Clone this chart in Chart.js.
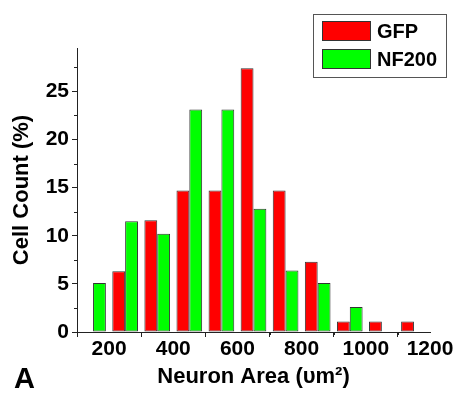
<!DOCTYPE html>
<html>
<head>
<meta charset="utf-8">
<script src="https://cdn.jsdelivr.net/npm/chart.js@4"></script>
<style>
  html, body { margin: 0; padding: 0; background: #fff; }
  #wrap { width: 458px; height: 396px; position: relative; }
</style>
</head>
<body>
<div id="wrap"><canvas id="hist"></canvas></div>
<script>
// -------- Data --------
const binCenters = [150, 250, 350, 450, 550, 650, 750, 850, 950, 1050, 1150];
const gfpPct   = [null, 6.3, 11.6, 14.7, 14.7, 27.4, 14.7, 7.3, 1.1, 1.1, 1.1];
const nf200Pct = [5.1, 11.5, 10.2, 23.1, 23.1, 12.8, 6.4, 5.1, 2.6, null, null];
const seriesNames = ["GFP", "NF200"];
const seriesColors = ["#ff0000", "#00ff00"];

const FONT = "'Liberation Sans', Arial, sans-serif";
const INK = "#222";

const toPoints = (vals) => binCenters.map((x, i) => ({ x: x, y: vals[i] }));

// short minor ticks between the labelled ones
const minorTicks = {
    id: "minorTicks",
    afterDraw(chart) {
        const { ctx, scales: { x, y } } = chart;
        ctx.save();
        ctx.strokeStyle = INK;
        ctx.lineWidth = 1;
        ctx.beginPath();
        for (let v = 2.5; v < y.max; v += 5) {
            const py = Math.round(y.getPixelForValue(v)) + 0.5;
            ctx.moveTo(x.left - 3, py); ctx.lineTo(x.left, py);
        }
        for (let v = 300; v < x.max; v += 200) {
            const px = Math.round(x.getPixelForValue(v)) + 0.5;
            ctx.moveTo(px, y.bottom); ctx.lineTo(px, y.bottom + 3);
        }
        ctx.stroke();
        ctx.restore();
    }
};

// boxed legend in the top right corner + panel letter
const boxLegend = {
    id: "boxLegend",
    afterDraw(chart) {
        const ctx = chart.ctx;
        ctx.save();
        ctx.strokeStyle = "#555";
        ctx.lineWidth = 1;
        ctx.strokeRect(313.5, 14.5, 133, 63);
        chart.data.datasets.forEach((ds, i) => {
            const top = 21 + i * 28;
            ctx.fillStyle = ds.backgroundColor;
            ctx.fillRect(322, top, 49, 20);
            ctx.strokeStyle = "#333";
            ctx.strokeRect(322.5, top + 0.5, 48, 19);
            ctx.fillStyle = "#000";
            ctx.font = "bold 20px " + FONT;
            ctx.textBaseline = "middle";
            ctx.fillText(ds.label, 377, top + 11);
        });
        ctx.font = "bold 29px " + FONT;
        ctx.textBaseline = "alphabetic";
        ctx.fillText("A", 14, 388);
        ctx.restore();
    }
};

new Chart(document.getElementById("hist"), {
    type: "bar",
    data: {
        datasets: [
            { label: seriesNames[0], data: toPoints(gfpPct), backgroundColor: seriesColors[0] },
            { label: seriesNames[1], data: toPoints(nf200Pct), backgroundColor: seriesColors[1] }
        ]
    },
    options: {
        responsive: true,
        maintainAspectRatio: false,
        animation: false,
        devicePixelRatio: 1,
        layout: { padding: { top: 48, right: 28, left: 0, bottom: 0 } },
        datasets: {
            bar: {
                categoryPercentage: 0.8, barPercentage: 1.0,
                borderWidth: 1, borderColor: "#333", borderSkipped: false
            }
        },
        plugins: { legend: { display: false }, tooltip: { enabled: false } },
        scales: {
            x: {
                type: "linear",
                min: 100, max: 1200,
                offset: false,
                afterFit: (s) => { s.height = 64; },
                border: { display: true, color: INK, width: 1 },
                grid: { display: true, drawOnChartArea: false, drawTicks: true, tickLength: 5, color: INK },
                ticks: {
                    stepSize: 200, includeBounds: false, autoSkip: false, maxRotation: 0,
                    padding: 0, color: "#000",
                    callback: (v) => String(v),
                    font: { family: FONT, size: 21, weight: "bold" }
                },
                title: {
                    display: true, text: "Neuron Area (υm²)", color: "#000",
                    padding: { top: 0, bottom: 6 },
                    font: { family: FONT, size: 22, weight: "bold" }
                }
            },
            y: {
                min: 0, max: 29.5,
                afterFit: (s) => { s.width = 77; },
                border: { display: true, color: INK, width: 1 },
                grid: { display: true, drawOnChartArea: false, drawTicks: true, tickLength: 5, color: INK },
                ticks: {
                    stepSize: 5, includeBounds: false, autoSkip: false,
                    padding: 3, color: "#000",
                    callback: (v) => String(v),
                    font: { family: FONT, size: 21, weight: "bold" }
                },
                title: {
                    display: true, text: "Cell Count (%)", color: "#000",
                    padding: { top: 9, bottom: 0 },
                    font: { family: FONT, size: 22, weight: "bold" }
                }
            }
        }
    },
    plugins: [minorTicks, boxLegend]
});
</script>
</body>
</html>
